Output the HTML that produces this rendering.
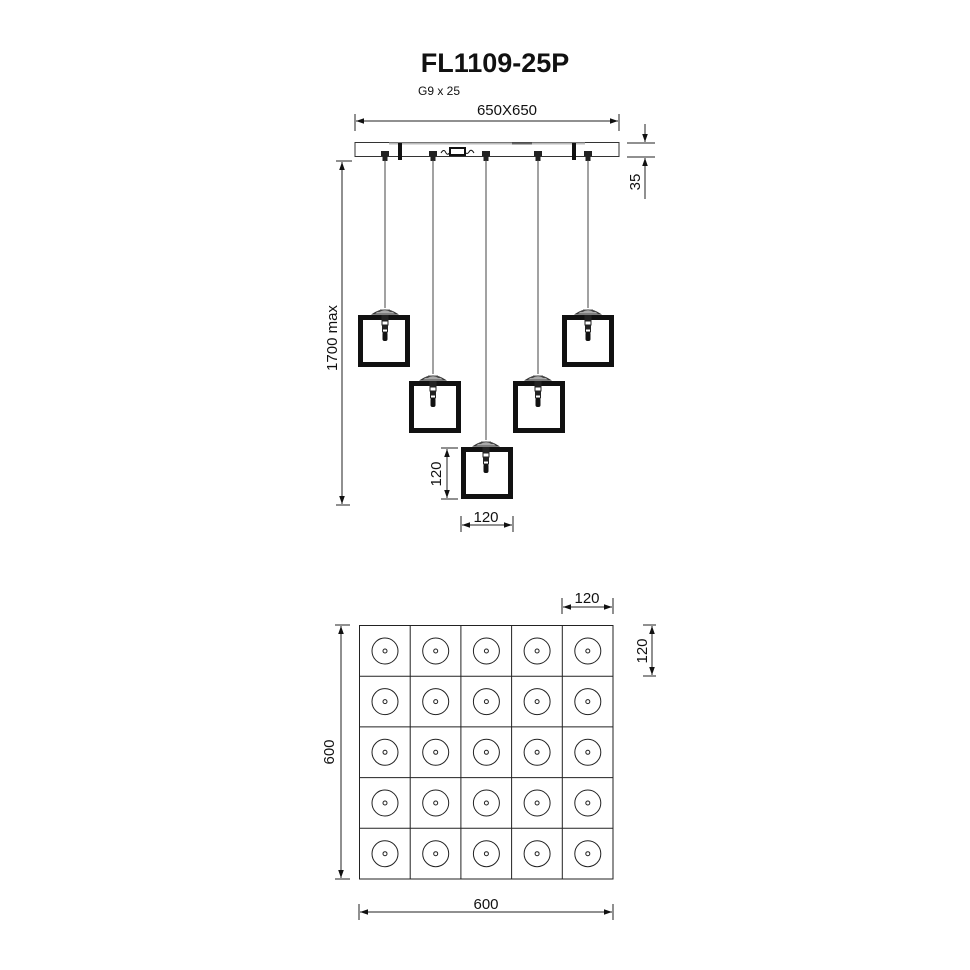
<!DOCTYPE html>
<html><head><meta charset="utf-8"><style>
html,body{margin:0;padding:0;background:#fff;}
svg{display:block;}
text{font-family:"Liberation Sans",sans-serif;fill:#111;}
</style></head><body>
<svg width="970" height="970" viewBox="0 0 970 970" xmlns="http://www.w3.org/2000/svg">
<defs>
<marker id="a" viewBox="0 0 10 10" refX="10" refY="5" markerWidth="10" markerHeight="8" orient="auto-start-reverse" markerUnits="userSpaceOnUse"><path d="M0,1.5 L10,5 L0,8.5 z" fill="#111"/></marker>
<g id="lamp">
<path d="M-12,-1 Q0,-9 12,-1 z" fill="#fff" stroke="#333" stroke-width="1.2"/>
<path d="M-8,-3 L8,-3 M-5,-5 L5,-5" stroke="#555" stroke-width="1"/>
<rect x="-3.5" y="0" width="7" height="6" fill="#222"/>
<rect x="-3" y="6" width="6" height="4" fill="#fff" stroke="#222" stroke-width="1"/>
<rect x="-3" y="10" width="6" height="4" fill="#222"/>
<rect x="-2.5" y="14" width="5" height="3" fill="#fff" stroke="#222" stroke-width="1"/>
<rect x="-2.5" y="17" width="5" height="9" rx="2" fill="#111"/>
</g>
<g id="cell"><circle r="13" fill="none" stroke="#222" stroke-width="1"/><circle r="2" fill="none" stroke="#222" stroke-width="1"/></g>
</defs>
<text x="495" y="72" font-size="27" font-weight="bold" text-anchor="middle">FL1109-25P</text>
<text x="418" y="95" font-size="12">G9 x 25</text>
<text x="507" y="115" font-size="15" text-anchor="middle">650X650</text>
<line x1="355" y1="114" x2="355" y2="131" stroke="#222"/>
<line x1="619" y1="114" x2="619" y2="131" stroke="#222"/>
<line x1="356" y1="121" x2="618" y2="121" stroke="#222" marker-start="url(#a)" marker-end="url(#a)"/>
<rect x="355" y="142.5" width="264" height="14" fill="#fff" stroke="#333" stroke-width="1"/>
<rect x="389" y="142.5" width="196" height="2" fill="#bbb"/>
<rect x="512" y="142.5" width="20" height="2" fill="#666"/>
<rect x="398" y="143" width="4" height="17" fill="#111"/>
<rect x="572" y="143" width="4" height="17" fill="#111"/>
<rect x="450" y="148" width="15" height="7" fill="#fff" stroke="#111" stroke-width="2"/>
<path d="M441,153 q3,-5 5,0 q2,3 4,-1 M465,152 q2,3 4,0 q2,-4 5,1" fill="none" stroke="#111"/>
<g fill="#222">
<rect x="381" y="151" width="8" height="5"/><rect x="382.5" y="156" width="5" height="5"/>
<rect x="429" y="151" width="8" height="5"/><rect x="430.5" y="156" width="5" height="5"/>
<rect x="482" y="151" width="8" height="5"/><rect x="483.5" y="156" width="5" height="5"/>
<rect x="534" y="151" width="8" height="5"/><rect x="535.5" y="156" width="5" height="5"/>
<rect x="584" y="151" width="8" height="5"/><rect x="585.5" y="156" width="5" height="5"/>
</g>
<line x1="627" y1="143" x2="655" y2="143" stroke="#222"/>
<line x1="627" y1="157" x2="655" y2="157" stroke="#222"/>
<line x1="645" y1="124" x2="645" y2="142" stroke="#222" marker-end="url(#a)"/>
<line x1="645" y1="199" x2="645" y2="158" stroke="#222" marker-end="url(#a)"/>
<text transform="translate(640,182) rotate(-90)" font-size="15" text-anchor="middle">35</text>
<g stroke="#444" stroke-width="1">
<line x1="385" y1="160" x2="385" y2="308"/><line x1="433" y1="160" x2="433" y2="374"/><line x1="486" y1="160" x2="486" y2="440"/><line x1="538" y1="160" x2="538" y2="374"/><line x1="588" y1="160" x2="588" y2="308"/>
</g>
<g fill="none" stroke="#111" stroke-width="5">
<rect x="360.5" y="317.5" width="47" height="47"/>
<rect x="411.5" y="383.5" width="47" height="47"/>
<rect x="463.5" y="449.5" width="47" height="47"/>
<rect x="515.5" y="383.5" width="47" height="47"/>
<rect x="564.5" y="317.5" width="47" height="47"/>
</g>
<use href="#lamp" x="385" y="315"/><use href="#lamp" x="433" y="381"/><use href="#lamp" x="486" y="447"/><use href="#lamp" x="538" y="381"/><use href="#lamp" x="588" y="315"/>
<line x1="336" y1="161" x2="352" y2="161" stroke="#222"/>
<line x1="336" y1="505" x2="350" y2="505" stroke="#222"/>
<line x1="342" y1="162" x2="342" y2="504" stroke="#222" marker-start="url(#a)" marker-end="url(#a)"/>
<text transform="translate(337,338) rotate(-90)" font-size="15" text-anchor="middle">1700 max</text>
<line x1="441" y1="448" x2="458" y2="448" stroke="#222"/>
<line x1="441" y1="499" x2="458" y2="499" stroke="#222"/>
<line x1="447" y1="449" x2="447" y2="498" stroke="#222" marker-start="url(#a)" marker-end="url(#a)"/>
<text transform="translate(441,474) rotate(-90)" font-size="15" text-anchor="middle">120</text>
<line x1="461" y1="516" x2="461" y2="532" stroke="#222"/>
<line x1="513" y1="516" x2="513" y2="532" stroke="#222"/>
<line x1="462" y1="525" x2="512" y2="525" stroke="#222" marker-start="url(#a)" marker-end="url(#a)"/>
<text x="486" y="522" font-size="15" text-anchor="middle">120</text>
<g fill="none" stroke="#222" stroke-width="1">
<rect x="359.5" y="625.5" width="253.5" height="253.5"/>
<line x1="410.2" y1="625" x2="410.2" y2="879"/><line x1="460.9" y1="625" x2="460.9" y2="879"/><line x1="511.6" y1="625" x2="511.6" y2="879"/><line x1="562.3" y1="625" x2="562.3" y2="879"/>
<line x1="359" y1="676.2" x2="613" y2="676.2"/><line x1="359" y1="726.9" x2="613" y2="726.9"/><line x1="359" y1="777.6" x2="613" y2="777.6"/><line x1="359" y1="828.3" x2="613" y2="828.3"/>
</g>
<g>
<use href="#cell" x="385" y="651"/><use href="#cell" x="435.7" y="651"/><use href="#cell" x="486.4" y="651"/><use href="#cell" x="537.1" y="651"/><use href="#cell" x="587.8" y="651"/>
<use href="#cell" x="385" y="701.6"/><use href="#cell" x="435.7" y="701.6"/><use href="#cell" x="486.4" y="701.6"/><use href="#cell" x="537.1" y="701.6"/><use href="#cell" x="587.8" y="701.6"/>
<use href="#cell" x="385" y="752.3"/><use href="#cell" x="435.7" y="752.3"/><use href="#cell" x="486.4" y="752.3"/><use href="#cell" x="537.1" y="752.3"/><use href="#cell" x="587.8" y="752.3"/>
<use href="#cell" x="385" y="803"/><use href="#cell" x="435.7" y="803"/><use href="#cell" x="486.4" y="803"/><use href="#cell" x="537.1" y="803"/><use href="#cell" x="587.8" y="803"/>
<use href="#cell" x="385" y="853.7"/><use href="#cell" x="435.7" y="853.7"/><use href="#cell" x="486.4" y="853.7"/><use href="#cell" x="537.1" y="853.7"/><use href="#cell" x="587.8" y="853.7"/>
</g>
<line x1="562" y1="598" x2="562" y2="614" stroke="#222"/>
<line x1="613" y1="598" x2="613" y2="614" stroke="#222"/>
<line x1="563" y1="607" x2="612" y2="607" stroke="#222" marker-start="url(#a)" marker-end="url(#a)"/>
<text x="587" y="603" font-size="15" text-anchor="middle">120</text>
<line x1="643" y1="625" x2="656" y2="625" stroke="#222"/>
<line x1="643" y1="676" x2="656" y2="676" stroke="#222"/>
<line x1="652" y1="626" x2="652" y2="675" stroke="#222" marker-start="url(#a)" marker-end="url(#a)"/>
<text transform="translate(647,651) rotate(-90)" font-size="15" text-anchor="middle">120</text>
<line x1="335" y1="625" x2="350" y2="625" stroke="#222"/>
<line x1="335" y1="879" x2="350" y2="879" stroke="#222"/>
<line x1="341" y1="626" x2="341" y2="878" stroke="#222" marker-start="url(#a)" marker-end="url(#a)"/>
<text transform="translate(334,752) rotate(-90)" font-size="15" text-anchor="middle">600</text>
<line x1="359" y1="904" x2="359" y2="920" stroke="#222"/>
<line x1="613" y1="904" x2="613" y2="920" stroke="#222"/>
<line x1="360" y1="912" x2="612" y2="912" stroke="#222" marker-start="url(#a)" marker-end="url(#a)"/>
<text x="486" y="909" font-size="15" text-anchor="middle">600</text>
</svg>
</body></html>
